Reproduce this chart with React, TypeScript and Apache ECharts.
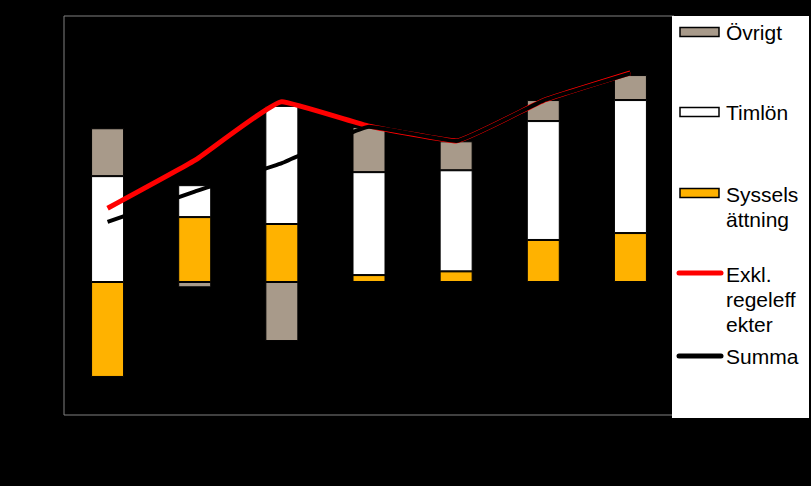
import { useEffect, useRef } from "react";
import * as echarts from "echarts";

// kategorier (etiketterna syns inte i originalet)
const categories = ["1", "2", "3", "4", "5", "6", "7"];

const sysselsattning = [-3.57, 2.44, 2.18, 0.26, 0.4, 1.58, 1.84];
const timlon = [3.98, 1.2, 4.44, 3.87, 3.8, 4.47, 5.0];
const ovrigt = [1.8, -0.2, -2.22, 1.7, 1.09, 0.79, 0.94];
const exklRegeleffekter = [2.77, 4.57, 6.78, 5.86, 5.3, 6.82, 7.86];
const summa = [2.26, 3.4, 4.47, 5.84, 5.3, 6.82, 7.84];

const FONT = "21px 'Liberation Sans', Arial, sans-serif";

function App() {
  const chartRef = useRef<HTMLDivElement>(null);

  useEffect(() => {
    if (!chartRef.current) return;
    const chart = echarts.init(chartRef.current, undefined, { renderer: "svg" });

    const barBase = {
      type: "bar" as const,
      stack: "total",
      barWidth: 33,
      itemStyle: { borderColor: "#000", borderWidth: 1 },
    };

    const legendText = (text: string, y: number) => ({
      type: "text",
      x: 726,
      y: y - 12.5,
      z: 11,
      style: {
        text,
        font: FONT,
        fill: "#000",
        lineHeight: 25,
        verticalAlign: "top",
      },
    });

    const swatch = (y: number, fill: string) => ({
      type: "rect",
      z: 11,
      shape: { x: 680, y: y - 4.5, width: 39, height: 9 },
      style: { fill, stroke: "#000", lineWidth: 1.5 },
    });

    const lineSwatch = (y: number, stroke: string) => ({
      type: "line",
      z: 11,
      shape: { x1: 679, y1: y, x2: 721, y2: y },
      style: { stroke, lineWidth: 5, lineCap: "round" },
    });

    const option: any = {
      animation: false,
      backgroundColor: "#000",
      grid: {
        left: 64,
        top: 16,
        width: 610,
        height: 399,
        show: true,
        borderColor: "#808080",
        borderWidth: 1,
        backgroundColor: "#000",
      },
      xAxis: {
        type: "category",
        data: categories,
        axisLine: { show: false },
        axisTick: { show: false },
        axisLabel: { show: false },
      },
      yAxis: {
        type: "value",
        min: -5,
        max: 10,
        interval: 5,
        splitLine: { show: false },
        axisLine: { show: false },
        axisTick: { show: false },
        axisLabel: { show: false },
      },
      series: [
        { ...barBase, name: "Sysselsättning", data: sysselsattning, itemStyle: { ...barBase.itemStyle, color: "#FFB200" } },
        { ...barBase, name: "Timlön", data: timlon, itemStyle: { ...barBase.itemStyle, color: "#FFFFFF" } },
        { ...barBase, name: "Övrigt", data: ovrigt, itemStyle: { ...barBase.itemStyle, color: "#A89A8A" } },
        {
          type: "line",
          name: "Exkl. regeleffekter",
          data: exklRegeleffekter,
          smooth: 0.1,
          symbol: "none",
          lineStyle: { color: "#FF0000", width: 5 },
          z: 3,
        },
        {
          type: "line",
          name: "Summa",
          data: summa,
          smooth: 0.1,
          symbol: "none",
          lineStyle: { color: "#000000", width: 4 },
          z: 4,
        },
      ],
      graphic: [
        {
          type: "rect",
          z: 10,
          shape: { x: 672, y: 16, width: 137, height: 402 },
          style: { fill: "#fff" },
        },
        swatch(32, "#A89A8A"),
        legendText("Övrigt", 32),
        swatch(112, "#fff"),
        legendText("Timlön", 112),
        swatch(193, "#FFB200"),
        legendText("Syssels\nättning", 194),
        lineSwatch(273, "#FF0000"),
        legendText("Exkl.\nregeleff\nekter", 274),
        lineSwatch(356, "#000"),
        legendText("Summa", 356),
      ],
    };

    chart.setOption(option);
    return () => {
      chart.dispose();
    };
  }, []);

  return (
    <div
      ref={chartRef}
      style={{ position: "absolute", left: 0, top: 0, width: 811, height: 486 }}
    />
  );
}

export default App;
